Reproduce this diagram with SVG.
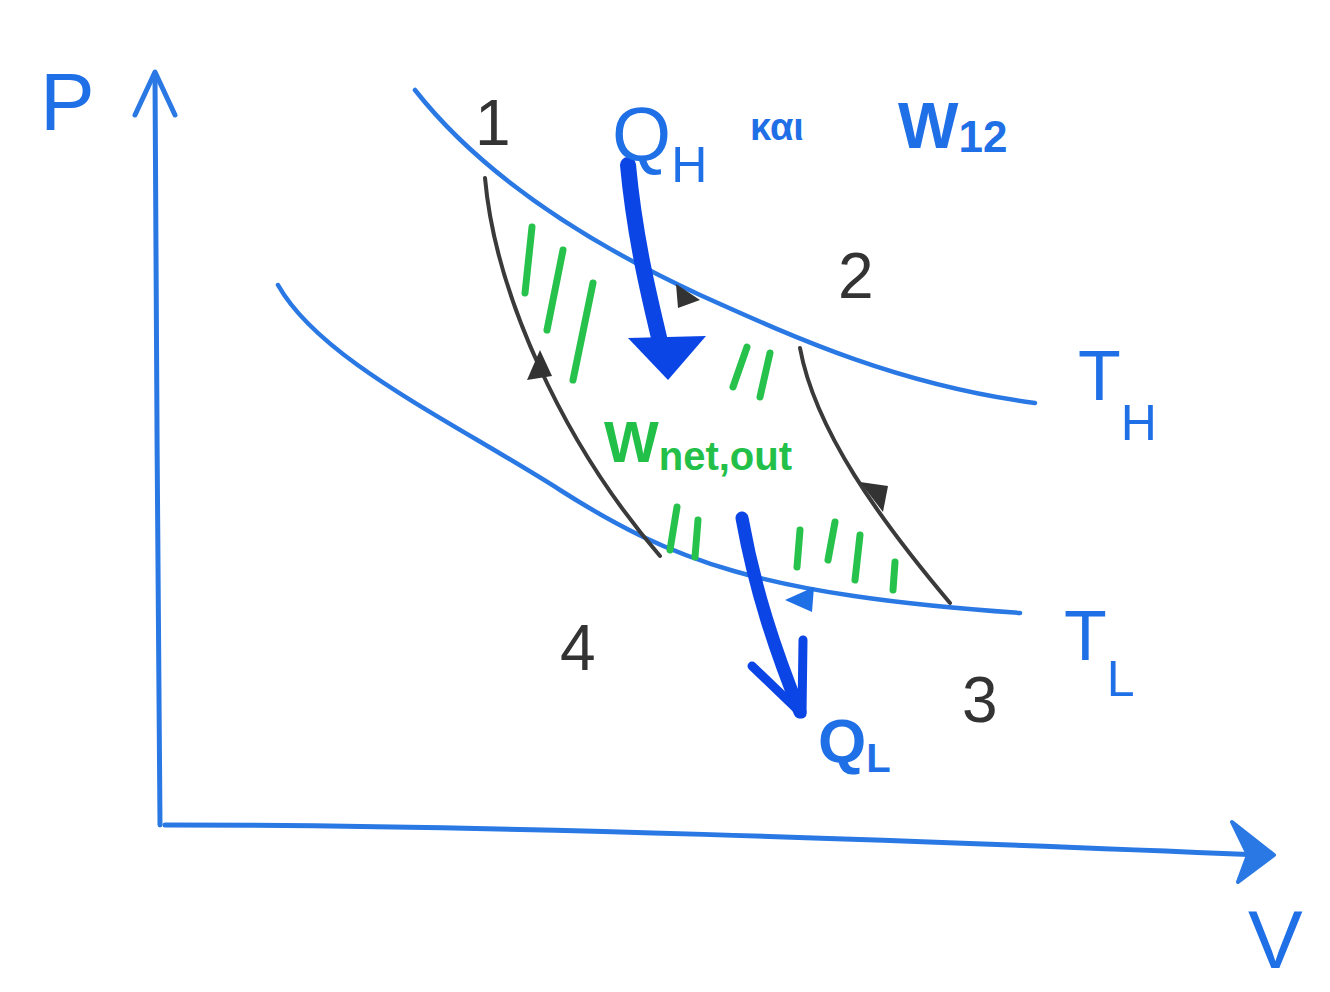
<svg xmlns="http://www.w3.org/2000/svg" width="1330" height="992" viewBox="0 0 1330 992">
<style>
.ax{fill:none;stroke:#2a78e4;stroke-width:5;stroke-linecap:round;stroke-linejoin:round}
.iso{fill:none;stroke:#2a78e4;stroke-width:4.5;stroke-linecap:round}
.adi{fill:none;stroke:#3a3a3a;stroke-width:4;stroke-linecap:round}
.hat{fill:none;stroke:#27c24c;stroke-width:7;stroke-linecap:round}
.big{fill:none;stroke:#0b45e6;stroke-linecap:round;stroke-linejoin:round}
.tb{font-family:"Liberation Sans","DejaVu Sans",sans-serif;fill:#1f6fe6}
.tk{font-family:"Liberation Sans","DejaVu Sans",sans-serif;fill:#333}
.tg{font-family:"Liberation Sans","DejaVu Sans",sans-serif;fill:#22c048;font-weight:bold}
</style>
<rect width="1330" height="992" fill="#ffffff"/>
<g id="connectors">
  <path class="ax" d="M160,825 C158,600 156,300 155,75"/>
  <path class="ax" d="M135,115 L155,72 L175,115"/>
  <path class="ax" d="M165,825 C500,825 900,840 1262,855"/>
  <polygon points="1232,822 1274,855 1238,882 1248,855" fill="#2a78e4" stroke="#2a78e4" stroke-width="4" stroke-linejoin="round"/>
  <path class="iso" d="M415,90 C470,160 560,230 700,295 C800,340 900,385 1035,403"/>
  <path class="iso" d="M278,285 C320,360 450,420 560,490 S760,595 1020,613"/>
  <path class="adi" d="M485,178 C495,290 560,440 660,556"/>
  <path class="adi" d="M800,348 C815,430 880,520 950,603"/>
  <polygon points="540,350 527,380 552,376" fill="#333"/>
  <polygon points="883,512 860,482 888,486" fill="#333"/>
  <polygon points="700,300 676,284 678,308" fill="#333"/>
  <polygon points="785,600 814,587 812,612" fill="#1f6fe6"/>
  <path class="big" d="M628,165 C635,240 650,300 662,350" stroke-width="16"/>
  <polygon points="628,338 706,336 668,380" fill="#0b45e6"/>
  <path class="big" d="M742,518 C755,590 775,650 800,712" stroke-width="13"/>
  <path class="big" d="M752,666 L802,714 L803,640" stroke-width="9"/>
  <path class="hat" d="M532,227 L525,293 M563,250 L547,330 M593,283 L573,380 M747,347 L733,387 M770,353 L760,397 M677,507 L670,550 M698,520 L695,557 M800,530 L797,567 M835,522 L828,560 M860,535 L855,580 M895,562 L893,590"/>
</g>
<g id="label-P"><text class="tb" x="40" y="130" font-size="82">P</text></g>
<g id="label-V"><text class="tb" x="1248" y="968" font-size="82">V</text></g>
<g id="state-1"><text class="tk" x="475" y="145" font-size="64">1</text></g>
<g id="state-2"><text class="tk" x="838" y="298" font-size="64">2</text></g>
<g id="state-3"><text class="tk" x="962" y="722" font-size="64">3</text></g>
<g id="state-4"><text class="tk" x="560" y="670" font-size="64">4</text></g>
<g id="label-QH"><text class="tb" x="612" y="160" font-size="76">Q<tspan font-size="50" dy="22">H</tspan></text></g>
<g id="label-kai"><text class="tb" x="750" y="140" font-size="38" font-weight="bold">και</text></g>
<g id="label-W12"><text class="tb" x="898" y="148" font-size="64" font-weight="bold">W<tspan font-size="44" dy="4">12</tspan></text></g>
<g id="label-TH"><text class="tb" x="1078" y="400" font-size="70">T<tspan font-size="50" dy="40">H</tspan></text></g>
<g id="label-TL"><text class="tb" x="1064" y="660" font-size="70">T<tspan font-size="50" dy="36">L</tspan></text></g>
<g id="label-QL"><text class="tb" x="818" y="762" font-size="62" font-weight="bold">Q<tspan font-size="40" dy="10">L</tspan></text></g>
<g id="label-Wnet"><text class="tg" x="604" y="462" font-size="58">W<tspan font-size="40" dy="8">net,out</tspan></text></g>
</svg>
